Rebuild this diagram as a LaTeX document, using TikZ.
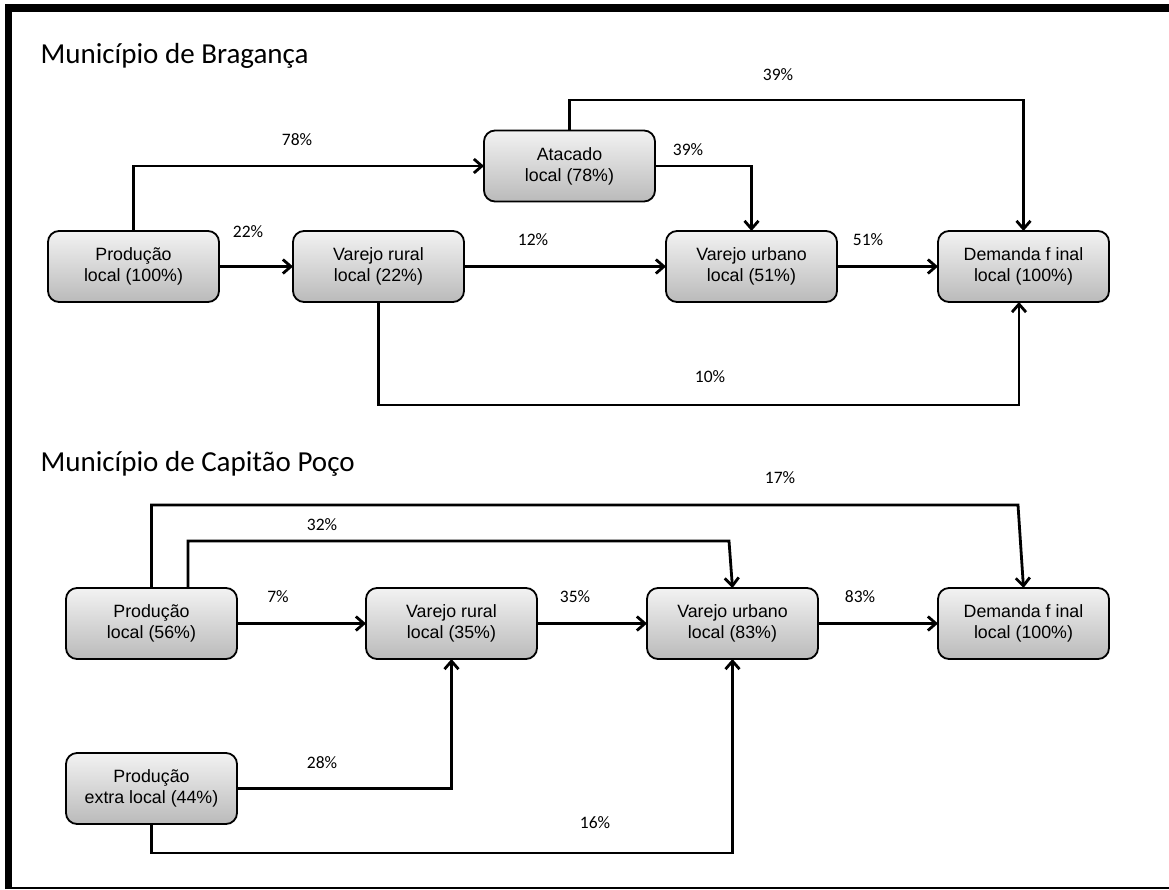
\documentclass[tikz,border=0pt]{standalone}
\usepackage{fontspec}
\setmainfont{Carlito}
\newfontfamily\boxfont{Liberation Sans}
\usetikzlibrary{arrows.meta}
\begin{document}
\begin{tikzpicture}[x=1pt,y=-1pt,
  stage/.style={draw=black, line width=1.8pt, rounded corners=11pt,
    top color=black!5, bottom color=black!27,
    minimum width=171pt, minimum height=71pt, outer sep=0pt,
    align=center, font=\boxfont\fontsize{17.8}{21}\selectfont},
  flow/.style={line width=2.8pt, -{Straight Barb[length=8pt,width=14pt]}},
  share/.style={font=\fontsize{17.5}{21}\selectfont},
  heading/.style={anchor=base west, font=\fontsize{29}{34}\selectfont}]
\useasboundingbox (0,0) rectangle (1169,889);
% outer frame
\draw[line width=7.5pt] (8.5,889) -- (8.5,8) -- (1169,8);
\draw[line width=2pt] (5,888) -- (1169,888);

% ---- Bragança ----
\node[heading] (t1) at (37,63) {Município de Bragança};
\node[stage] (pl1) at (133.5,266.5) {Produção\\local (100\%)};
\node[stage] (vr1) at (378.5,266.5) {Varejo rural\\local (22\%)};
\node[stage] (at1) at (569.5,166) {Atacado\\local (78\%)};
\node[stage] (vu1) at (751.5,266.5) {Varejo urbano\\local (51\%)};
\node[stage] (df1) at (1023.5,266.5) {Demanda f inal\\local (100\%)};

\coordinate (k1) at (1023.5,100);
\coordinate (k2) at (1019,405);

\draw[flow] (pl1.north) |- (at1.west);
\draw[flow] (pl1.east) -- (vr1.west);
\draw[flow] (vr1.east) -- (vu1.west);
\draw[flow] (vu1.east) -- (df1.west);
\draw[flow] (at1.east) -| (vu1.north);
\draw[flow] (at1.north) |- (k1) -- (df1.north);
\draw[flow] (vr1.south) |- (k2) -- (k2 |- df1.south);

\node[share] (l78) at (297,140) {78\%};
\node[share] (l22) at (248,232) {22\%};
\node[share] (l12) at (533,240) {12\%};
\node[share] (l51) at (868,240) {51\%};
\node[share] (l39a) at (688,150) {39\%};
\node[share] (l39b) at (778,75) {39\%};
\node[share] (l10) at (710,377) {10\%};

% ---- Capitão Poço ----
\node[heading] (t2) at (37,471) {Município de Capitão Poço};
\node[stage] (pl2) at (151.5,623.5) {Produção\\local (56\%)};
\node[stage] (vr2) at (451.5,623.5) {Varejo rural\\local (35\%)};
\node[stage] (vu2) at (732.5,623.5) {Varejo urbano\\local (83\%)};
\node[stage] (df2) at (1023.5,623.5) {Demanda f inal\\local (100\%)};
\node[stage] (pe2) at (151.5,788.5) {Produção\\extra local (44\%)};

\coordinate (k3) at (1018,505);
\coordinate (k4) at (729,541);
\coordinate (k5) at (732.5,853);

\draw[flow] (pl2.north) |- (k3) -- (df2.north);
\draw[flow] ([xshift=36.5pt]pl2.north) |- (k4) -- (vu2.north);
\draw[flow] (pl2.east) -- (vr2.west);
\draw[flow] (vr2.east) -- (vu2.west);
\draw[flow] (vu2.east) -- (df2.west);
\draw[flow] (pe2.east) -| (vr2.south);
\draw[flow] (pe2.south) |- (k5) -- (vu2.south);

\node[share] (l17) at (780,478) {17\%};
\node[share] (l32) at (322,525) {32\%};
\node[share] (l7) at (278,597) {7\%};
\node[share] (l35) at (575,597) {35\%};
\node[share] (l83) at (860,597) {83\%};
\node[share] (l28) at (322,763) {28\%};
\node[share] (l16) at (595,823) {16\%};
\end{tikzpicture}
\end{document}
